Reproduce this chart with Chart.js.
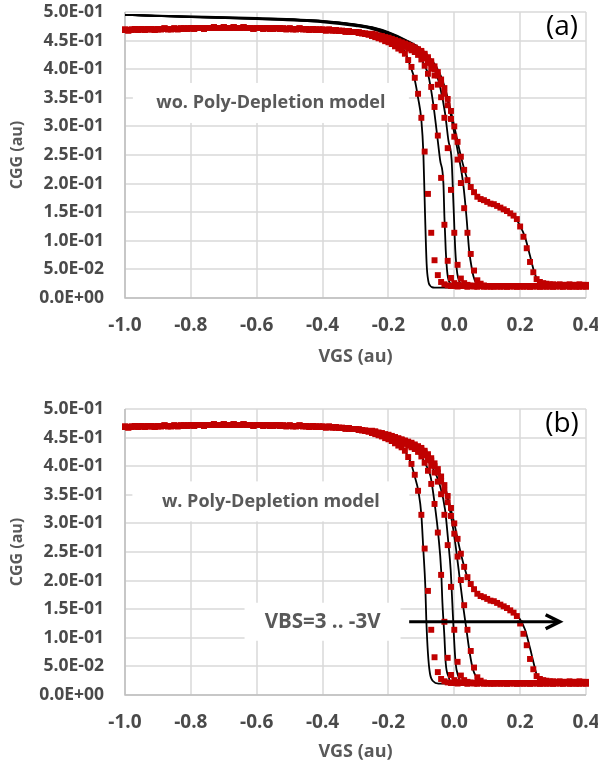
<!DOCTYPE html>
<html>
<head>
<meta charset="utf-8">
<script src="https://cdn.jsdelivr.net/npm/chart.js@4.4.0/dist/chart.umd.min.js"></script>
<style>
  html, body { margin: 0; padding: 0; background: #fff; }
  body { width: 598px; height: 770px; position: relative; overflow: hidden; }
  .panel { position: absolute; left: 0; width: 598px; }
  #panelA { top: 0; height: 375px; }
  #panelB { top: 397px; height: 373px; }
</style>
</head>
<body>
<div class="panel" id="panelA"><canvas id="chartA"></canvas></div>
<div class="panel" id="panelB"><canvas id="chartB"></canvas></div>
<script>
// gate voltage of the measured points (au)
const vgs = [
  -1.00,-0.99,-0.98,-0.97,-0.96,-0.95,-0.94,-0.93,-0.92,-0.91,
  -0.90,-0.89,-0.88,-0.87,-0.86,-0.85,-0.84,-0.83,-0.82,-0.81,
  -0.80,-0.79,-0.78,-0.77,-0.76,-0.75,-0.74,-0.73,-0.72,-0.71,
  -0.70,-0.69,-0.68,-0.67,-0.66,-0.65,-0.64,-0.63,-0.62,-0.61,
  -0.60,-0.59,-0.58,-0.57,-0.56,-0.55,-0.54,-0.53,-0.52,-0.51,
  -0.50,-0.49,-0.48,-0.47,-0.46,-0.45,-0.44,-0.43,-0.42,-0.41,
  -0.40,-0.39,-0.38,-0.37,-0.36,-0.35,-0.34,-0.33,-0.32,-0.31,
  -0.30,-0.29,-0.28,-0.27,-0.26,-0.25,-0.24,-0.23,-0.22,-0.21,
  -0.20,-0.19,-0.18,-0.17,-0.16,-0.15,-0.14,-0.13,-0.12,-0.11,
  -0.10,-0.09,-0.08,-0.07,-0.06,-0.05,-0.04,-0.03,-0.02,-0.01,
  0.00,0.01,0.02,0.03,0.04,0.05,0.06,0.07,0.08,0.09,
  0.10,0.11,0.12,0.13,0.14,0.15,0.16,0.17,0.18,0.19,
  0.20,0.21,0.22,0.23,0.24,0.25,0.26,0.27,0.28,0.29,
  0.30,0.31,0.32,0.33,0.34,0.35,0.36,0.37,0.38,0.39,
  0.40
];

// measured CGG, accumulation part (-1.00 .. -0.26), same for all VBS
const cggAccum = [
  0.469,0.468,0.469,0.470,0.469,0.470,0.469,0.470,0.470,0.469,
  0.470,0.470,0.471,0.470,0.470,0.471,0.470,0.471,0.471,0.471,
  0.472,0.471,0.472,0.472,0.471,0.472,0.472,0.473,0.472,0.472,
  0.473,0.472,0.472,0.473,0.472,0.472,0.473,0.472,0.472,0.471,
  0.472,0.472,0.471,0.472,0.471,0.471,0.472,0.471,0.471,0.470,
  0.471,0.470,0.470,0.471,0.470,0.470,0.469,0.470,0.469,0.469,
  0.469,0.468,0.469,0.468,0.468,0.467,0.467,0.466,0.466,0.465,
  0.465,0.464,0.463,0.462,0.461
];

// measured CGG from -0.25 .. 0.40, one list per VBS
const cggTail1 = [
  0.458,0.456,0.454,0.452,0.449,0.447,0.444,0.440,0.436,0.433,
  0.427,0.416,0.404,0.385,0.357,0.315,0.256,0.182,0.114,0.066,
  0.040,0.028,0.024,0.022,0.021,
  0.021,0.020,0.021,0.021,0.020,0.021,0.020,0.021,0.021,0.020,
  0.021,0.020,0.021,0.020,0.021,0.021,0.020,0.021,0.020,0.021,
  0.020,0.021,0.021,0.020,0.021,0.020,0.021,0.020,0.021,0.021,
  0.020,0.021,0.020,0.021,0.021,0.020,0.021,0.020,0.021,0.020,
  0.021
];
const cggTail2 = [
  0.460,0.458,0.456,0.455,0.453,0.451,0.449,0.447,0.445,0.442,
  0.439,0.436,0.433,0.430,0.425,0.417,0.406,0.392,0.369,0.334,
  0.284,0.210,0.128,0.065,0.035,0.026,0.023,0.022,
  0.021,0.020,0.021,0.021,0.020,0.021,0.020,0.021,0.021,0.020,
  0.021,0.020,0.021,0.020,0.021,0.021,0.020,0.021,0.020,0.021,
  0.020,0.021,0.021,0.020,0.021,0.020,0.021,0.020,0.021,0.021,
  0.020,0.021,0.020,0.021,0.021,0.020,0.021,0.020
];
const cggTail3 = [
  0.461,0.459,0.458,0.456,0.455,0.453,0.451,0.449,0.447,0.445,
  0.442,0.440,0.437,0.434,0.430,0.426,0.419,0.411,0.401,0.389,
  0.373,0.351,0.315,0.262,0.189,0.114,0.058,0.034,0.026,0.023,
  0.022,
  0.021,0.020,0.021,0.021,0.020,0.021,0.020,0.021,0.021,0.020,
  0.021,0.020,0.021,0.020,0.021,0.021,0.020,0.021,0.020,0.021,
  0.020,0.021,0.021,0.020,0.021,0.020,0.021,0.020,0.021,0.021,
  0.020,0.021,0.020,0.021,0.021
];
const cggTail4 = [
  0.461,0.460,0.458,0.457,0.455,0.454,0.452,0.450,0.448,0.446,
  0.444,0.441,0.439,0.436,0.433,0.429,0.424,0.418,0.410,0.400,
  0.389,0.374,0.357,0.337,0.313,0.282,0.242,0.201,0.157,0.114,
  0.077,0.048,0.031,0.025,0.022,
  0.021,0.020,0.021,0.021,0.020,0.021,0.020,0.021,0.021,0.020,
  0.021,0.020,0.021,0.020,0.021,0.021,0.020,0.021,0.020,0.021,
  0.020,0.021,0.021,0.020,0.021,0.020,0.021,0.020,0.021,0.021,
  0.020
];
const cggTail5 = [
  0.462,0.461,0.459,0.458,0.456,0.455,0.453,0.451,0.449,0.447,
  0.445,0.443,0.441,0.438,0.435,0.432,0.427,0.421,0.414,0.405,
  0.395,0.382,0.367,0.348,0.327,0.300,0.273,0.247,0.224,0.206,
  0.194,0.185,0.177,0.173,0.171,0.168,0.165,0.164,0.161,0.158,
  0.155,0.152,0.148,0.144,0.138,0.125,0.107,0.087,0.063,0.045,
  0.033,0.028,0.026,0.025,0.024,
  0.024,0.023,0.024,0.023,0.023,0.024,0.023,0.023,0.024,0.023,
  0.023
];

// model curves, panel (a): without poly-depletion
const modelA1X = [-1.0,-0.8,-0.6,-0.4,-0.3,-0.25,-0.2,-0.17,-0.15,-0.135,-0.12,-0.11,-0.10,-0.094,-0.089,-0.084,-0.079,-0.074,-0.068,-0.06,-0.04,0.4];
const modelA1Y = [0.495,0.491,0.4875,0.482,0.4755,0.470,0.458,0.444,0.430,0.408,0.381,0.350,0.311,0.255,0.150,0.060,0.030,0.022,0.019,0.018,0.018,0.018];
const modelA2X = [-1.0,-0.8,-0.6,-0.4,-0.3,-0.25,-0.2,-0.15,-0.12,-0.1,-0.09,-0.079,-0.064,-0.054,-0.043,-0.033,-0.03,-0.026,-0.021,-0.013,-0.003,0.4];
const modelA2Y = [0.495,0.491,0.488,0.483,0.477,0.471,0.461,0.446,0.431,0.417,0.406,0.390,0.340,0.294,0.241,0.200,0.142,0.084,0.043,0.026,0.020,0.018];
const modelA3X = [-1.0,-0.8,-0.6,-0.4,-0.3,-0.25,-0.2,-0.15,-0.1,-0.07,-0.055,-0.043,-0.028,-0.018,-0.008,-0.005,-0.001,0.003,0.009,0.017,0.027,0.4];
const modelA3Y = [0.495,0.4915,0.4885,0.4835,0.4775,0.472,0.463,0.449,0.428,0.408,0.392,0.369,0.323,0.276,0.241,0.200,0.142,0.084,0.043,0.027,0.020,0.018];
const modelA4X = [-1.0,-0.8,-0.6,-0.4,-0.3,-0.25,-0.2,-0.15,-0.1,-0.06,-0.04,-0.02,-0.01,0.002,0.012,0.027,0.037,0.045,0.054,0.062,0.077,0.4];
const modelA4Y = [0.495,0.492,0.489,0.484,0.478,0.473,0.464,0.451,0.433,0.407,0.384,0.345,0.318,0.282,0.252,0.200,0.142,0.084,0.049,0.031,0.021,0.018];
const modelA5X = [-1.0,-0.8,-0.6,-0.4,-0.3,-0.25,-0.2,-0.15,-0.1,-0.06,-0.04,-0.02,0.0,0.02,0.04,0.06,0.08,0.10,0.12,0.14,0.16,0.18,0.2,0.215,0.23,0.243,0.255,0.27,0.3,0.4];
const modelA5Y = [0.495,0.4925,0.4895,0.4845,0.4785,0.4735,0.465,0.452,0.435,0.409,0.387,0.350,0.300,0.248,0.207,0.186,0.174,0.168,0.163,0.157,0.151,0.145,0.126,0.106,0.074,0.045,0.029,0.022,0.019,0.019];

// model curves, panel (b): with poly-depletion
const modelB1X = [-1.0,-0.8,-0.6,-0.4,-0.3,-0.25,-0.2,-0.16,-0.145,-0.132,-0.12,-0.109,-0.1,-0.094,-0.088,-0.085,-0.08,-0.074,-0.064,-0.048,0.4];
const modelB1Y = [0.469,0.471,0.472,0.469,0.465,0.458,0.447,0.433,0.422,0.406,0.382,0.356,0.315,0.254,0.190,0.132,0.073,0.038,0.024,0.020,0.019];
const modelB2X = [-1.0,-0.8,-0.6,-0.4,-0.3,-0.25,-0.2,-0.15,-0.12,-0.1,-0.085,-0.072,-0.06,-0.048,-0.04,-0.036,-0.03,-0.026,-0.018,-0.008,0.4];
const modelB2Y = [0.469,0.471,0.472,0.469,0.465,0.460,0.451,0.439,0.430,0.417,0.401,0.382,0.336,0.277,0.219,0.161,0.102,0.056,0.033,0.021,0.019];
const modelB3X = [-1.0,-0.8,-0.6,-0.4,-0.3,-0.25,-0.2,-0.15,-0.1,-0.07,-0.055,-0.043,-0.028,-0.018,-0.011,-0.006,-0.001,0.004,0.012,0.022,0.4];
const modelB3Y = [0.469,0.471,0.472,0.469,0.465,0.461,0.453,0.442,0.426,0.401,0.385,0.365,0.324,0.266,0.219,0.161,0.102,0.056,0.033,0.021,0.019];
const modelB4X = [-1.0,-0.8,-0.6,-0.4,-0.3,-0.25,-0.2,-0.15,-0.1,-0.06,-0.04,-0.018,-0.003,0.007,0.017,0.027,0.037,0.047,0.057,0.069,0.083,0.4];
const modelB4Y = [0.469,0.471,0.472,0.469,0.465,0.461,0.454,0.444,0.429,0.400,0.374,0.336,0.289,0.248,0.201,0.155,0.114,0.073,0.044,0.030,0.021,0.019];
const modelB5X = [-1.0,-0.8,-0.6,-0.4,-0.3,-0.25,-0.2,-0.15,-0.1,-0.06,-0.03,0.0,0.02,0.04,0.06,0.08,0.10,0.12,0.14,0.16,0.18,0.20,0.215,0.23,0.241,0.25,0.265,0.3,0.4];
const modelB5Y = [0.469,0.471,0.472,0.469,0.465,0.462,0.455,0.445,0.432,0.405,0.367,0.300,0.247,0.206,0.185,0.173,0.168,0.164,0.158,0.152,0.146,0.132,0.114,0.082,0.056,0.036,0.027,0.022,0.021];

const xTickLabels = ['-1.0', '-0.8', '-0.6', '-0.4', '-0.2', '0.0', '0.2', '0.4'];
const yTickLabels = ['0.0E+00', '5.0E-02', '1.0E-01', '1.5E-01', '2.0E-01', '2.5E-01',
                     '3.0E-01', '3.5E-01', '4.0E-01', '4.5E-01', '5.0E-01'];

const RED = '#c00000';
const TEXT_GREY = '#595959';
const TICK_GREY = '#4a4a4a';
const GRID = '#d9d9d9';
const AXIS_LINE = '#bfbfbf';

const measured = [cggTail1, cggTail2, cggTail3, cggTail4, cggTail5].map(t => cggAccum.concat(t));

function toPoints(xs, ys) {
  return xs.map((x, i) => ({ x: x, y: ys[i] }));
}

function buildDatasets(models) {
  const sets = [];
  measured.forEach(series => {
    sets.push({
      data: toPoints(vgs, series),
      showLine: false,
      pointStyle: 'rect',
      pointRadius: 4.2,
      pointBackgroundColor: RED,
      pointBorderWidth: 0,
      clip: false,
      order: 0
    });
  });
  models.forEach(([xs, ys]) => {
    sets.push({
      data: toPoints(xs, ys),
      showLine: true,
      borderColor: '#000',
      borderWidth: 1.8,
      pointRadius: 0,
      cubicInterpolationMode: 'monotone',
      fill: false,
      order: 1
    });
  });
  return sets;
}

// rasterlijnen, tekst, kaders en pijl in het plotvlak
const panelText = {
  id: 'panelText',
  beforeDatasetsDraw(chart, args, opts) {
    const { ctx, chartArea: area, scales: { x, y } } = chart;
    ctx.save();
    ctx.strokeStyle = GRID;
    ctx.lineWidth = 1.5;
    x.ticks.forEach(t => {
      const px = Math.round(x.getPixelForValue(t.value));
      ctx.beginPath();
      ctx.moveTo(px, area.top);
      ctx.lineTo(px, area.bottom);
      ctx.stroke();
    });
    y.ticks.forEach(t => {
      const py = Math.round(y.getPixelForValue(t.value));
      ctx.beginPath();
      ctx.moveTo(area.left, py);
      ctx.lineTo(area.right, py);
      ctx.stroke();
    });
    ctx.strokeStyle = AXIS_LINE;
    ctx.lineWidth = 1.5;
    ctx.beginPath();
    ctx.moveTo(Math.round(area.left), area.top);
    ctx.lineTo(Math.round(area.left), Math.round(area.bottom));
    ctx.lineTo(area.right, Math.round(area.bottom));
    ctx.stroke();
    ctx.restore();

    opts.notes.forEach(n => {
      const cx = x.getPixelForValue(n.x);
      const cy = y.getPixelForValue(n.y);
      ctx.save();
      ctx.fillStyle = '#fff';
      ctx.fillRect(cx - n.boxW / 2, cy - n.boxH / 2, n.boxW, n.boxH);
      ctx.font = 'bold ' + n.size + 'px "Open Sans"';
      ctx.fillStyle = TEXT_GREY;
      ctx.textAlign = 'center';
      ctx.textBaseline = 'middle';
      ctx.fillText(n.text, cx, cy);
      ctx.restore();
    });
  },
  afterDatasetsDraw(chart, args, opts) {
    const { ctx, scales: { x, y } } = chart;
    ctx.save();
    if (opts.arrow) {
      const a = opts.arrow;
      const x0 = x.getPixelForValue(a.from);
      const x1 = x.getPixelForValue(a.to);
      const yy = y.getPixelForValue(a.y);
      ctx.strokeStyle = '#000';
      ctx.lineWidth = 3;
      ctx.beginPath();
      ctx.moveTo(x0, yy);
      ctx.lineTo(x1 - 1, yy);
      ctx.stroke();
      ctx.lineWidth = 3.5;
      ctx.lineJoin = 'miter';
      ctx.beginPath();
      ctx.moveTo(x1 - 14, yy - 7);
      ctx.lineTo(x1, yy);
      ctx.lineTo(x1 - 14, yy + 7);
      ctx.stroke();
    }
    ctx.font = '28px "Open Sans"';
    ctx.fillStyle = '#000';
    ctx.textAlign = 'center';
    ctx.textBaseline = 'middle';
    ctx.fillText(opts.tag.text, x.getPixelForValue(opts.tag.x), y.getPixelForValue(opts.tag.y));
    ctx.restore();
  }
};

function makeChart(canvasId, models, axisHeight, notes, arrow, tag) {
  const ctx = document.getElementById(canvasId).getContext('2d');
  return new Chart(ctx, {
    type: 'scatter',
    data: { datasets: buildDatasets(models) },
    plugins: [panelText],
    options: {
      responsive: true,
      maintainAspectRatio: false,
      animation: false,
      devicePixelRatio: 1,
      layout: { padding: { top: 12, right: 12, left: 0, bottom: 0 } },
      plugins: {
        legend: { display: false },
        tooltip: { enabled: false },
        panelText: { notes: notes, arrow: arrow, tag: tag }
      },
      scales: {
        x: {
          type: 'linear',
          min: -1.0,
          max: 0.4,
          afterFit: s => { s.height = axisHeight; s.paddingLeft = 0; s.paddingRight = 0; },
          grid: { display: false, drawTicks: false },
          border: { display: false },
          ticks: {
            stepSize: 0.2,
            padding: 16,
            color: TICK_GREY,
            font: { family: 'Open Sans', size: 19, weight: 'bold' },
            callback: (v, i) => xTickLabels[i]
          },
          title: {
            display: true,
            text: 'VGS (au)',
            color: TEXT_GREY,
            font: { family: 'Open Sans', size: 18, weight: 'bold' },
            padding: { top: 0, bottom: 7 }
          }
        },
        y: {
          type: 'linear',
          min: 0,
          max: 0.5,
          afterFit: s => { s.width = 125; s.paddingTop = 0; s.paddingBottom = 0; },
          grid: { display: false, drawTicks: false },
          border: { display: false },
          ticks: {
            stepSize: 0.05,
            padding: 21,
            color: TICK_GREY,
            font: { family: 'Open Sans', size: 17.5, weight: 'bold' },
            callback: (v, i) => yTickLabels[i]
          },
          title: {
            display: true,
            text: 'CGG (au)',
            color: TEXT_GREY,
            font: { family: 'Open Sans', size: 16, weight: 'bold' },
            padding: { top: 8, bottom: 0 }
          }
        }
      }
    }
  });
}

makeChart('chartA',
  [[modelA1X, modelA1Y], [modelA2X, modelA2Y], [modelA3X, modelA3Y], [modelA4X, modelA4Y], [modelA5X, modelA5Y]],
  77,
  [{ text: 'wo. Poly-Depletion model', x: -0.557, y: 0.341, boxW: 276, boxH: 40, size: 18 }],
  null,
  { text: '(a)', x: 0.327, y: 0.473 });

makeChart('chartB',
  [[modelB1X, modelB1Y], [modelB2X, modelB2Y], [modelB3X, modelB3Y], [modelB4X, modelB4Y], [modelB5X, modelB5Y]],
  75,
  [{ text: 'w. Poly-Depletion model', x: -0.557, y: 0.3385, boxW: 277, boxH: 40, size: 18 },
   { text: 'VBS=3 .. -3V', x: -0.40, y: 0.128, boxW: 156, boxH: 38, size: 20.5 }],
  { from: -0.137, to: 0.32, y: 0.128 },
  { text: '(b)', x: 0.327, y: 0.473 });
</script>
</body>
</html>
